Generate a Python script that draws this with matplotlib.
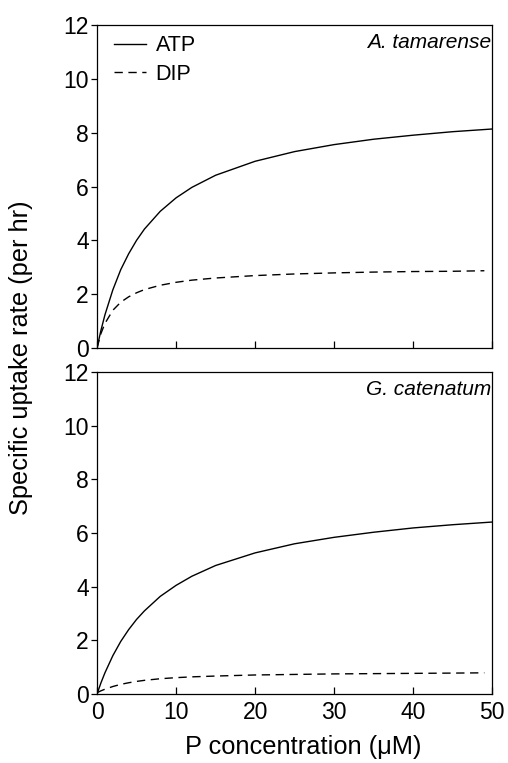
import matplotlib
matplotlib.use("Agg")
import matplotlib.pyplot as plt

plt.rcParams['font.family'] = ['Liberation Sans', 'DejaVu Sans']

x = [0, 0.5, 1, 2, 3, 4, 5, 6, 8, 10, 12, 15, 20, 25, 30, 35, 40, 45, 50]
x_dip = [0, 0.5, 1, 2, 3, 4, 5, 6, 8, 10, 12, 15, 20, 25, 30, 35, 40, 45, 49]

atp_tam = [0, 0.66, 1.23, 2.16, 2.91, 3.50, 4.00, 4.42, 5.08, 5.58, 5.97, 6.42, 6.94, 7.30, 7.56, 7.76, 7.91, 8.04, 8.14]
dip_tam = [0, 0.54, 0.91, 1.40, 1.70, 1.90, 2.05, 2.17, 2.33, 2.44, 2.52, 2.60, 2.69, 2.75, 2.79, 2.82, 2.84, 2.85, 2.87]

atp_cat = [0, 0.42, 0.79, 1.43, 1.96, 2.40, 2.78, 3.10, 3.64, 4.05, 4.39, 4.79, 5.26, 5.60, 5.84, 6.03, 6.19, 6.31, 6.41]
dip_cat = [0.05, 0.12, 0.18, 0.28, 0.36, 0.42, 0.47, 0.51, 0.57, 0.61, 0.64, 0.67, 0.71, 0.73, 0.75, 0.76, 0.77, 0.78, 0.79]

xticks = [0, 10, 20, 30, 40, 50]
yticks = [0, 2, 4, 6, 8, 10, 12]
species = ["A. tamarense", "G. catenatum"]

fig = plt.figure(figsize=(5.08, 7.63), dpi=100)
ax1 = fig.add_axes([0.191, 0.544, 0.778, 0.423])
ax2 = fig.add_axes([0.191, 0.0904, 0.778, 0.422])

for ax, a, d, sp in [(ax1, atp_tam, dip_tam, species[0]), (ax2, atp_cat, dip_cat, species[1])]:
    ax.plot(x, a, color='black', lw=1.0, ls='-', label='ATP')
    ax.plot(x_dip, d, color='black', lw=1.0, ls=(0, (6, 4)), label='DIP')
    ax.set_xlim(0, 50)
    ax.set_ylim(0, 12)
    ax.set_xticks(xticks)
    ax.set_yticks(yticks)
    ax.tick_params(axis='x', direction='in', length=5, width=0.9, labelsize=16.5, pad=5)
    ax.tick_params(axis='y', direction='out', length=4, width=0.9, labelsize=16.5, pad=2)
    for s in ax.spines.values():
        s.set_linewidth(0.9)
    ax.text(0.997, 0.975, sp, transform=ax.transAxes, ha='right', va='top',
            fontsize=15, style='italic')

ax1.tick_params(axis='x', labelbottom=False)
leg = ax1.legend(loc='upper left', frameon=False, fontsize=15.5, handlelength=1.5,
                 handletextpad=0.45, borderaxespad=0.0, labelspacing=0.35,
                 bbox_to_anchor=(0.02, 0.995))

fig.text(0.041, 0.531, 'Specific uptake rate (per hr)', rotation=90, ha='center', va='center', fontsize=18.3)
fig.text(0.597, 0.021, 'P concentration (\u03bcM)', ha='center', va='center', fontsize=18.3)

fig.savefig('out.png', dpi=100)
